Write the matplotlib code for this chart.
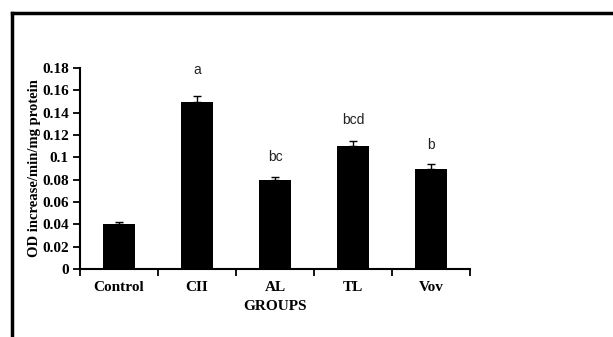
import numpy as np
import matplotlib.pyplot as plt
from matplotlib.lines import Line2D

groups = ["Control", "CII", "AL", "TL", "Vov"]
values = [0.04, 0.15, 0.08, 0.11, 0.09]
errors = [0.002, 0.005, 0.002, 0.005, 0.004]
letters = ["", "a", "bc", "bcd", "b"]
letter_y = [0.0, 0.178, 0.100, 0.133, 0.111]
yticks = [0, 0.02, 0.04, 0.06, 0.08, 0.1, 0.12, 0.14, 0.16, 0.18]
ytick_labels = ["0", "0.02", "0.04", "0.06", "0.08", "0.1", "0.12", "0.14", "0.16", "0.18"]

serif = "Liberation Serif"

fig = plt.figure(figsize=(6.13, 3.37), dpi=100)
ax = fig.add_axes([0.1305, 0.2018, 0.6362, 0.5964])

x = np.arange(len(groups))
ax.bar(x, values, width=0.4, color="black", zorder=2)
ax.errorbar(x, values, yerr=[np.zeros(len(errors)), errors], fmt="none",
            ecolor="black", elinewidth=1, capsize=3, capthick=1, zorder=3)

for xi, lab, ly in zip(x, letters, letter_y):
    if lab:
        ax.text(xi, ly, lab, ha="center", va="center", fontsize=10,
                family="Liberation Sans", color="#222222")

ax.set_xlim(-0.5, len(groups) - 0.5)
ax.set_ylim(0, 0.18)
ax.set_yticks(yticks)
ax.set_yticklabels(ytick_labels, family=serif, fontweight="bold", fontsize=11)
ax.set_xticks(x)
ax.set_xticklabels(groups, family=serif, fontweight="bold", fontsize=11)
ax.set_xticks(np.arange(len(groups) + 1) - 0.5, minor=True)
ax.tick_params(axis="x", which="major", length=0, pad=9)
ax.tick_params(axis="x", which="minor", length=5, width=1.3, direction="out")
ax.tick_params(axis="y", length=5, width=1.3, direction="out", pad=3)

for s in ["top", "right"]:
    ax.spines[s].set_visible(False)
for s in ["left", "bottom"]:
    ax.spines[s].set_linewidth(1.5)

ax.set_ylabel("OD increase/min/mg protein", family=serif, fontweight="bold",
              fontsize=10.5, labelpad=1)
ax.set_xlabel("GROUPS", family=serif, fontweight="bold", fontsize=11, labelpad=4)

# outer frame of the original figure
fig.add_artist(Line2D([12 / 613, 12 / 613], [0, 1 - 13 / 337], color="black",
                      linewidth=2.5, transform=fig.transFigure))
fig.add_artist(Line2D([12 / 613, 1], [1 - 13 / 337, 1 - 13 / 337], color="black",
                      linewidth=2.5, transform=fig.transFigure))

fig.savefig("out.png", dpi=100)
